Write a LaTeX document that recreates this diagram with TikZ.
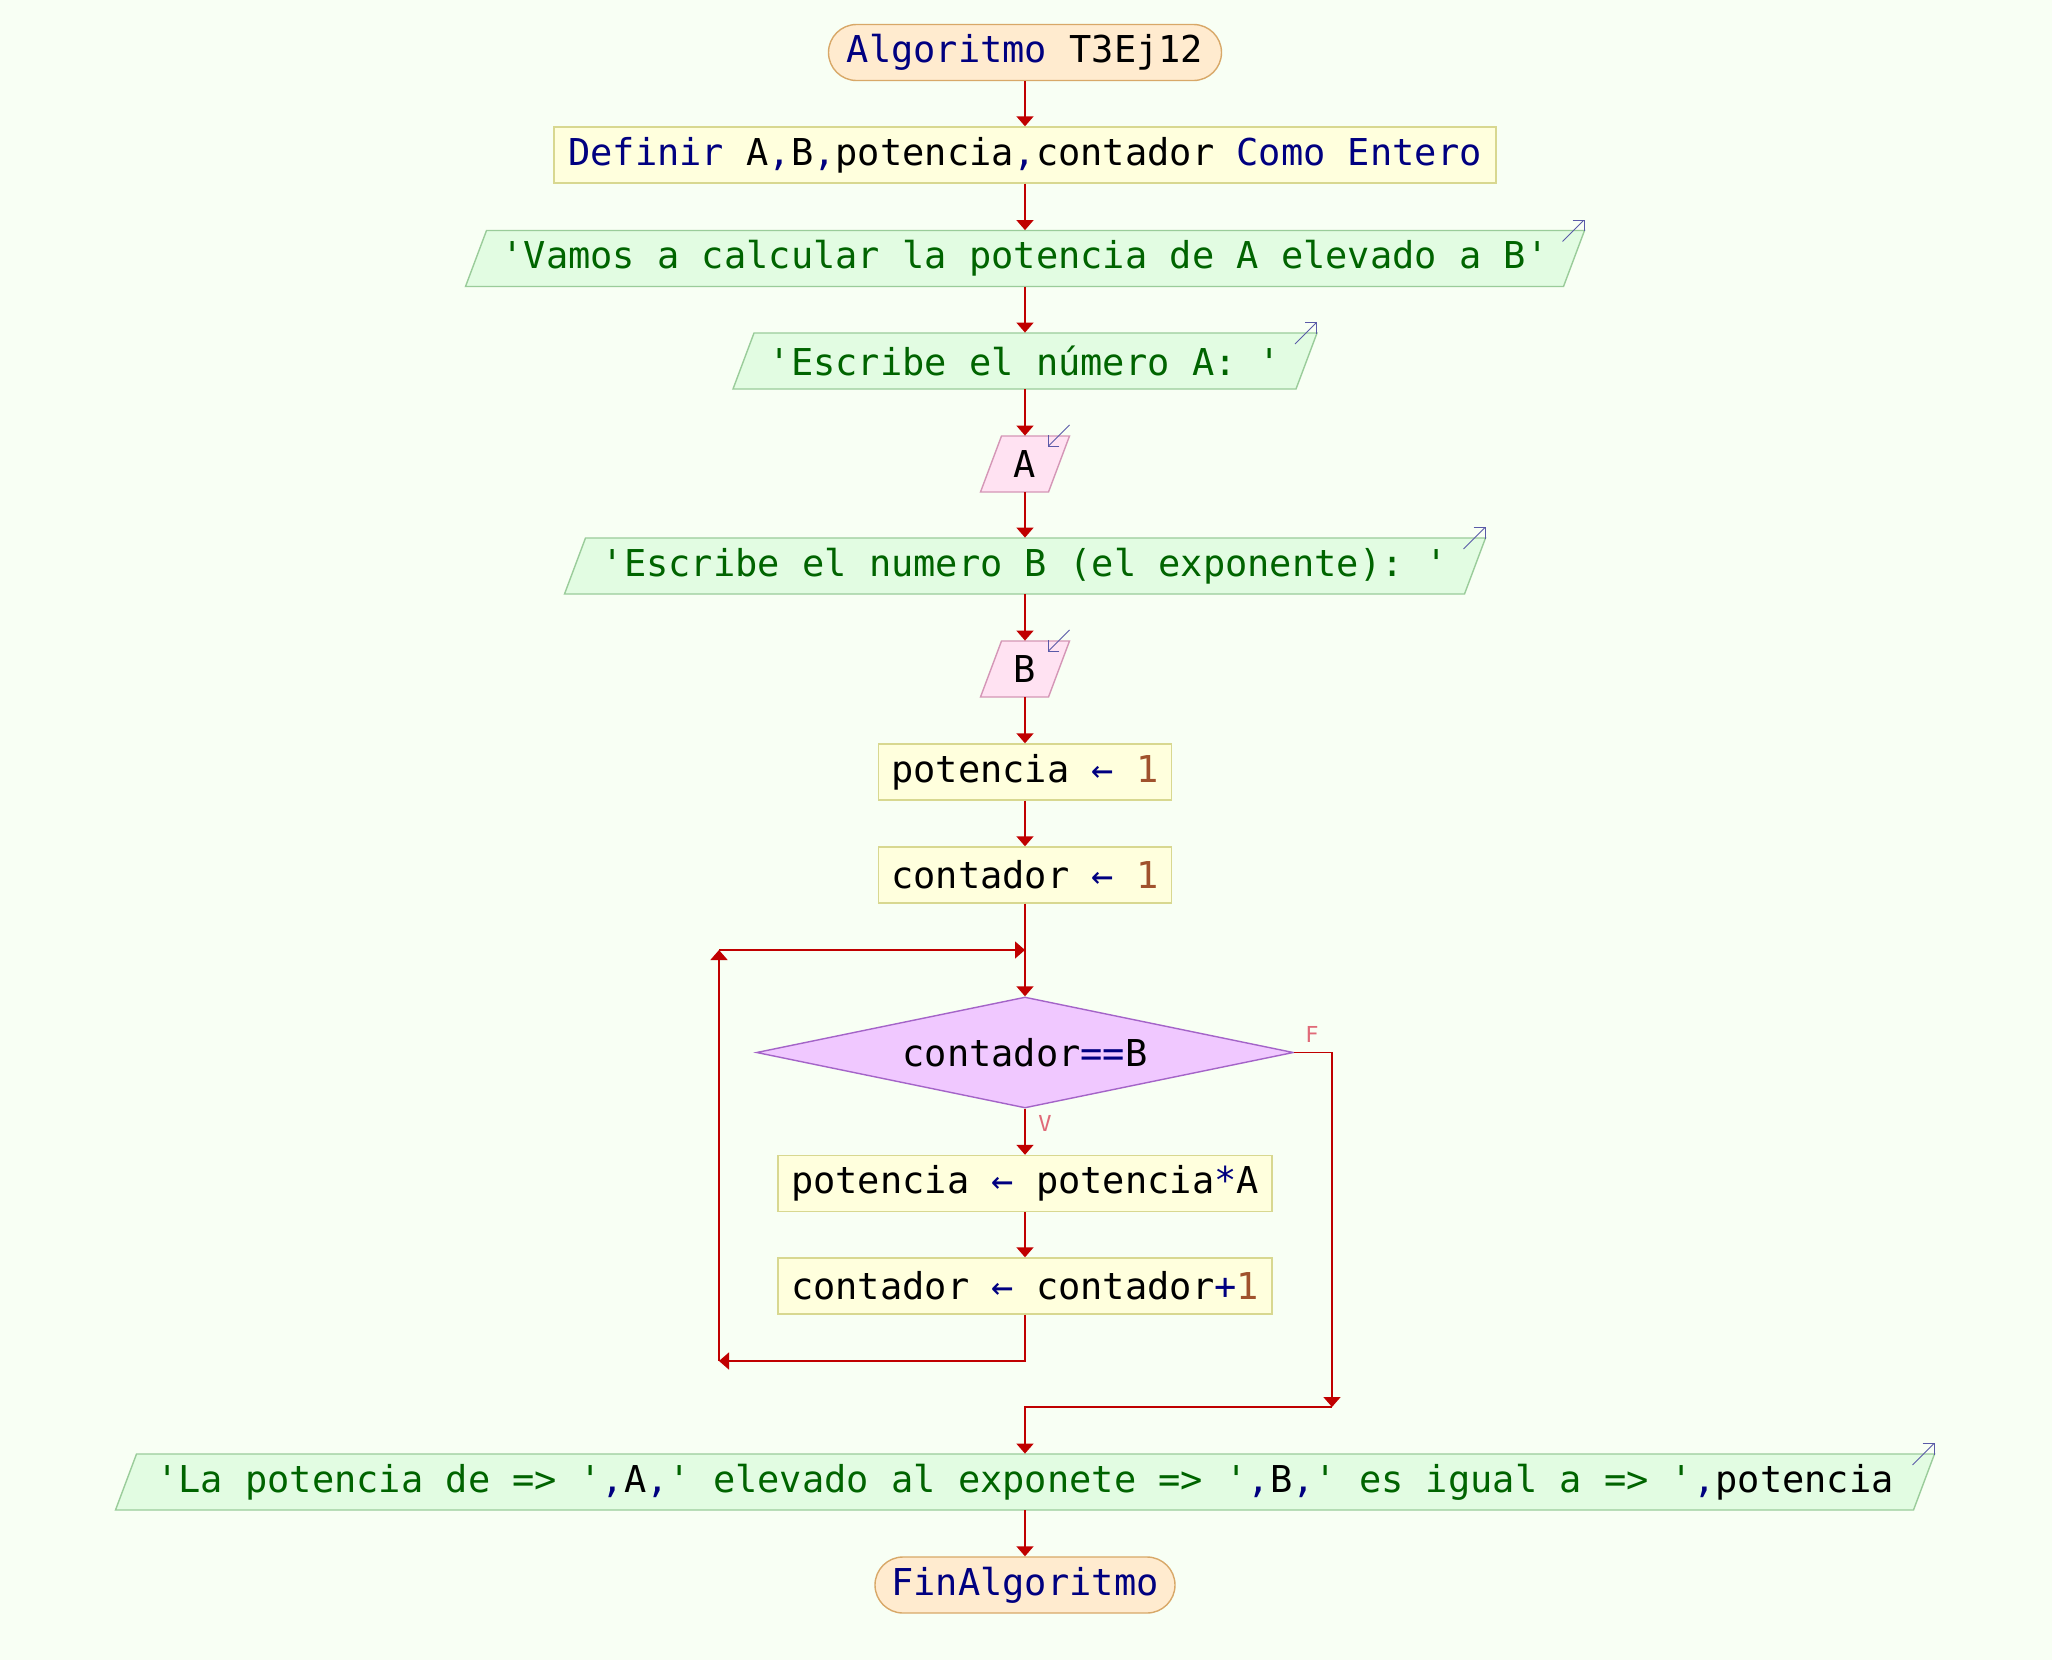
\documentclass[tikz,border=0pt]{standalone}
\usepackage{fontspec}
\setmonofont{DejaVu Sans Mono}
\usetikzlibrary{arrows.meta,shapes.geometric}
\definecolor{bgc}{HTML}{F8FFF4}
\definecolor{termf}{HTML}{FFEBCF}
\definecolor{termb}{HTML}{D8A868}
\definecolor{procf}{HTML}{FFFFDD}
\definecolor{procb}{HTML}{D8D890}
\definecolor{outf}{HTML}{E2FCE2}
\definecolor{outb}{HTML}{9ACC9A}
\definecolor{inf}{HTML}{FFE2F2}
\definecolor{inb}{HTML}{D496B6}
\definecolor{decf}{HTML}{F0C8FF}
\definecolor{decb}{HTML}{A464C8}
\definecolor{linec}{HTML}{C00000}
\definecolor{ioc}{HTML}{5A5AA8}
\definecolor{kwc}{HTML}{000080}
\definecolor{strc}{HTML}{006400}
\definecolor{numc}{HTML}{A0522D}
\definecolor{lblc}{HTML}{E06A78}
\newcommand\ckw[1]{\textcolor{kwc}{#1}}
\newcommand\cstr[1]{\textcolor{strc}{#1}}
\newcommand\cop[1]{\textcolor{kwc}{#1}}
\newcommand\cnum[1]{\textcolor{numc}{#1}}
\newcommand\pgnode[5]{%
  \path[#4] ({1025-#3/2-10.5},{#2+28}) -- ({1025+#3/2-10.5},{#2+28}) -- ({1025+#3/2+10.5},{#2-28}) -- ({1025-#3/2+10.5},{#2-28}) -- cycle;
  \node[txt, minimum width={#3*0.5pt}] (#1) at (1025,#2) {#5};}
\newcommand\outmark[2]{%
  \draw[ioarr] ({1025+#2/2+10.5-22},{#1-28+11}) -- ({1025+#2/2+10.5},{#1-28-11});}
\newcommand\inmark[2]{%
  \draw[ioarr] ({1025+#2/2+10.5},{#1-28-11}) -- ({1025+#2/2+10.5-22},{#1-28+11});}
\begin{document}
\begin{tikzpicture}[x=0.5pt,y=-0.5pt,
 font=\ttfamily\fontsize{18.5}{22}\selectfont,
 box/.style={inner sep=0pt, minimum height=28pt, line width=0.7pt},
 term/.style={box, draw=termb, fill=termf, rounded corners=14pt},
 proc/.style={box, draw=procb, fill=procf},
 txt/.style={inner sep=0pt, minimum height=28pt},
 outshape/.style={draw=outb, fill=outf, line width=0.7pt},
 inshape/.style={draw=inb, fill=inf, line width=0.7pt},
 dec/.style={diamond, draw=decb, fill=decf, line width=0.7pt, inner sep=0pt, aspect=4.84, minimum width=268.5pt, minimum height=55.5pt},
 conn/.style={draw=linec, line width=0.8pt, -{Triangle[width=8.5pt,length=5pt]}},
 ioarr/.style={draw=ioc, line width=0.5pt, -{Straight Barb[length=4pt,width=8pt]}},
 lbl/.style={text=lblc, font=\ttfamily\fontsize{11}{13}\selectfont, inner sep=0pt}
]
\fill[bgc] (0,0) rectangle (2052,1660);
\useasboundingbox (0,0) rectangle (2052,1660);

\node[term, minimum width=196.5pt] (start) at (1025,52.5) {\ckw{Algoritmo} T3Ej12};
\node[proc, minimum width=471pt] (def) at (1025,155) {\ckw{Definir} A\cop{,}B\cop{,}potencia\cop{,}contador \ckw{Como Entero}};
\pgnode{o1}{258.5}{1098}{outshape}{\cstr{'Vamos a calcular la potencia de A elevado a B'}}
\outmark{258.5}{1098}
\pgnode{o2}{361}{563}{outshape}{\cstr{'Escribe el número A: '}}
\outmark{361}{563}
\pgnode{i1}{464}{68}{inshape}{A}
\inmark{464}{68}
\pgnode{o3}{566}{900}{outshape}{\cstr{'Escribe el numero B (el exponente): '}}
\outmark{566}{900}
\pgnode{i2}{669}{68}{inshape}{B}
\inmark{669}{68}
\node[proc, minimum width=146.5pt] (p1) at (1025,772) {potencia \cop{←} \cnum{1}};
\node[proc, minimum width=146.5pt] (c1) at (1025,875) {contador \cop{←} \cnum{1}};
\node[dec] (dec) at (1025,1052.5) {contador\cop{==}B};
\node[proc, minimum width=247pt] (p2) at (1025,1183.5) {potencia \cop{←} potencia\cop{*}A};
\node[proc, minimum width=247pt] (c2) at (1025,1286) {contador \cop{←} contador\cop{+}\cnum{1}};
\pgnode{o4}{1482}{1798}{outshape}{\cstr{'La potencia de => '}\cop{,}A\cop{,}\cstr{' elevado al exponete => '}\cop{,}B\cop{,}\cstr{' es igual a => '}\cop{,}potencia}
\outmark{1482}{1798}
\node[term, minimum width=150pt] (fin) at (1025,1585) {\ckw{FinAlgoritmo}};

\draw[conn] (start) -- (def);
\draw[conn] (def) -- (o1);
\draw[conn] (o1) -- (o2);
\draw[conn] (o2) -- (i1);
\draw[conn] (i1) -- (o3);
\draw[conn] (o3) -- (i2);
\draw[conn] (i2) -- (p1);
\draw[conn] (p1) -- (c1);
\draw[conn] (c1) -- (dec);
\draw[conn] (dec) -- (p2);
\draw[conn] (p2) -- (c2);
\coordinate (lb) at (719,1361);
\coordinate (lt) at (719,950);
\coordinate (fj) at (1332,1407);
\draw[conn] (c2.south) |- (lb);
\draw[conn] (lb) -- (lt);
\draw[conn] (lt) -- (lt -| dec.north);
\draw[conn] (dec.east) -| (fj);
\draw[conn] (fj) -| (o4.north);
\draw[conn] (o4) -- (fin);
\node[lbl] (lf) at (1312,1034) {F};
\node[lbl] (lv) at (1045,1123) {V};
\end{tikzpicture}
\end{document}
